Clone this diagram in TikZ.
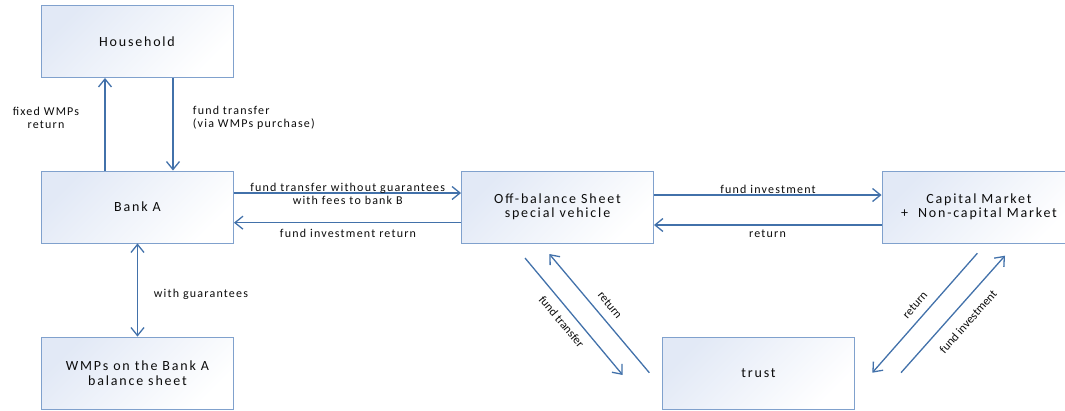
\documentclass[tikz,border=0pt]{standalone}
\usepackage{fontspec}
\setmainfont{Carlito}
\newfontfamily\boxfont[LetterSpace=13]{Carlito}
\newfontfamily\lblfont[LetterSpace=10]{Carlito}
\usetikzlibrary{arrows.meta}
\definecolor{boxborder}{RGB}{128,161,205}
\definecolor{boxtop}{RGB}{226,233,246}
\definecolor{arrowc}{RGB}{66,113,170}
\definecolor{txt}{RGB}{12,12,12}
\tikzset{
  box/.style={draw=boxborder, line width=0.9pt, top color=boxtop, bottom color=white, shading angle=45,
    minimum width=192pt, minimum height=72pt, align=center, text=txt,
    font=\boxfont\fontsize{14}{14.5}\selectfont},
  arr/.style={draw=arrowc, line width=1.3pt, -{Straight Barb[length=8pt,width=13pt]}},
  darr/.style={draw=arrowc, line width=1.3pt, {Straight Barb[length=8pt,width=13pt]}-{Straight Barb[length=8pt,width=13pt]}},
  lbl/.style={text=txt, font=\lblfont\fontsize{12}{13}\selectfont, align=center, inner sep=0pt},
  dlbl/.style={text=txt, font=\fontsize{12}{13}\selectfont, inner sep=0pt}
}
\begin{document}
\begin{tikzpicture}[x=1pt,y=-1pt]
\useasboundingbox (0,0) rectangle (1065,410);
% boxes
\node[box] (hh) at (137,41.5) {Household};
\node[box] (bank) at (137.5,207) {Bank A};
\node[box] (wmp) at (137.5,373) {WMPs on the Bank A\\balance sheet};
\node[box] (obs) at (557.5,207) {Off-balance Sheet\\special vehicle};
\node[box, minimum width=194pt] (cap) at (979,207) {Capital Market\\+\ \ Non-capital Market};
\node[box] (trust) at (758.5,373) {trust};
% vertical arrows
\draw[arr] ([xshift=-32.5pt]bank.north) -- ([xshift=-32pt]hh.south);
\draw[arr] ([xshift=36pt]hh.south) -- ([xshift=35.5pt]bank.north);
\draw[darr] (bank.south) -- (wmp.north);
% horizontal arrows
\draw[arr] ([yshift=14pt]bank.east) -- ([yshift=14pt]obs.west);
\draw[arr] ([yshift=-15.7pt]obs.west) -- ([yshift=-15.7pt]bank.east);
\draw[arr] ([yshift=12pt]obs.east) -- ([yshift=12pt]cap.west);
\draw[arr] ([yshift=-18pt]cap.west) -- ([yshift=-18pt]obs.east);
% diagonal arrows
\coordinate (d1s) at (525,258);
\coordinate (d1e) at (622.7,375);
\coordinate (d2s) at (649.3,372.7);
\coordinate (d2e) at (549.3,254);
\coordinate (d3s) at (977.3,253.3);
\coordinate (d3e) at (872.3,372.7);
\coordinate (d4s) at (901,372.7);
\coordinate (d4e) at (1005,255.7);
\draw[arr] (d1s) -- (d1e);
\draw[arr] (d2s) -- (d2e);
\draw[arr] (d3s) -- (d3e);
\draw[arr] (d4s) -- (d4e);
% labels
\node[lbl] (l1) at (46,118) {fixed WMPs\\return};
\node[lbl, align=left, anchor=west] (l2) at (192.7,118) {fund transfer\\(via WMPs purchase)};
\node[lbl] (l3) at (201,294.3) {with guarantees};
\node[lbl] (l4) at (347.7,193.6) {fund transfer without guarantees\\with fees to bank B};
\node[lbl] (l5) at (348,233.3) {fund investment return};
\node[lbl] (l6) at (768,189.3) {fund investment};
\node[lbl] (l7) at (767.5,233.3) {return};
\node[dlbl, rotate=-50.1] (l8) at (561.7,321.7) {fund transfer};
\node[dlbl, rotate=-50.1] (l9) at (610,305) {return};
\node[dlbl, rotate=48.7] (l10) at (915,305) {return};
\node[dlbl, rotate=48.4] (l11) at (968,321.7) {fund investment};
\end{tikzpicture}
\end{document}
